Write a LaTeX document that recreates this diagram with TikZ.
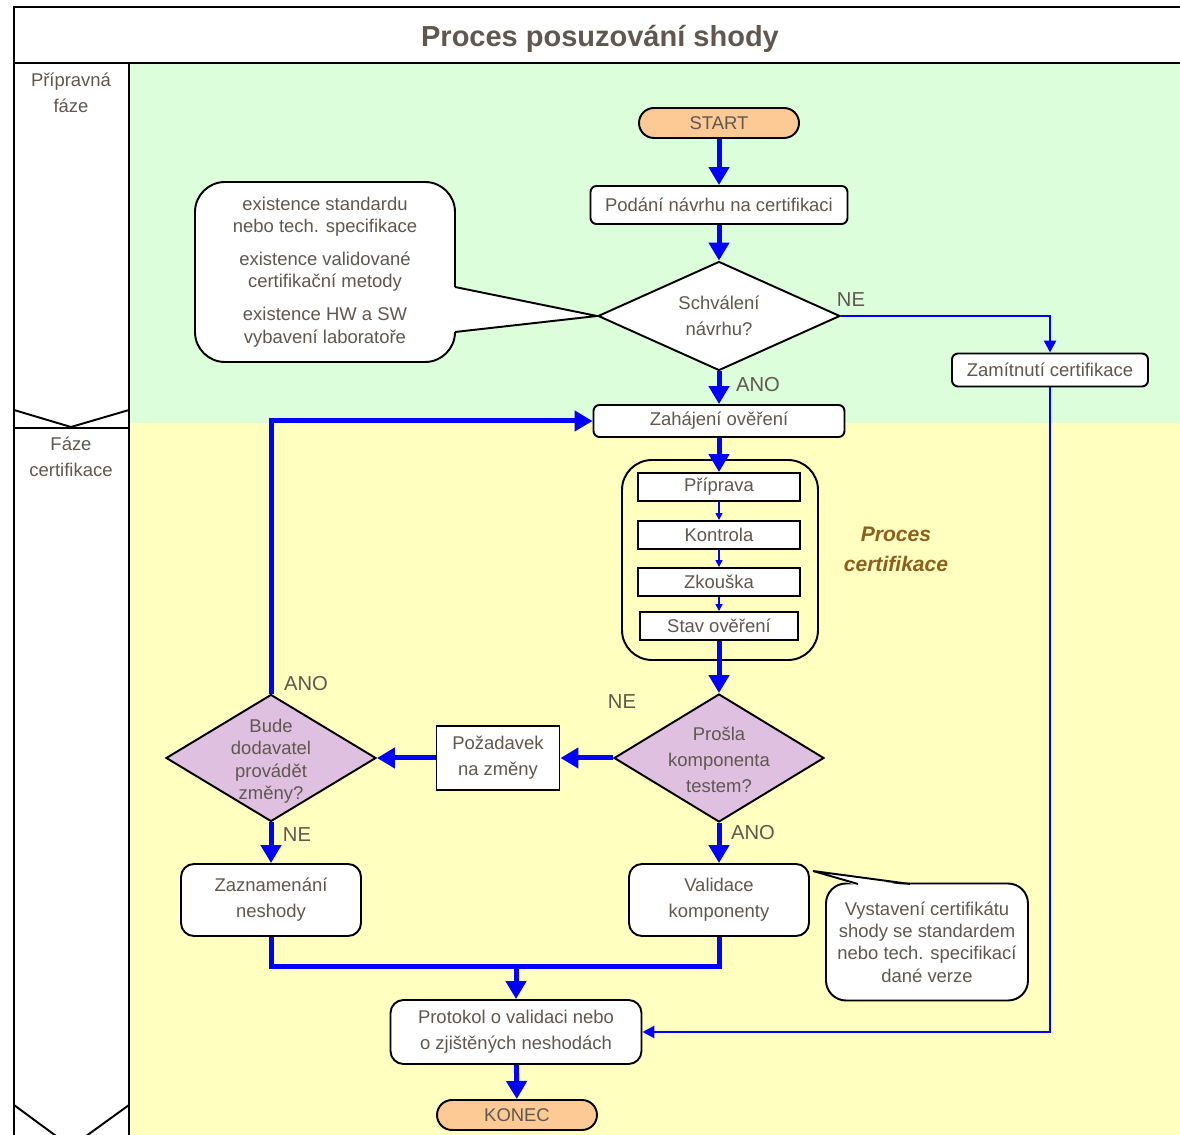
\documentclass[tikz,border=0pt]{standalone}
\usepackage{fontspec}
\setmainfont{Liberation Sans}
\usetikzlibrary{arrows.meta,shapes.geometric}
\definecolor{txtgray}{RGB}{95,87,80}
\definecolor{lanegreen}{RGB}{220,254,218}
\definecolor{laneyellow}{RGB}{255,255,192}
\definecolor{termpeach}{RGB}{253,202,150}
\definecolor{decililac}{RGB}{224,192,224}
\definecolor{procbrown}{RGB}{140,95,30}

\begin{document}
\begin{tikzpicture}[x=0.2mm,y=-0.2mm,
  txt/.style={text=txtgray,font=\fontsize{10.5}{14.7}\selectfont,align=center},
  frameline/.style={line width=1.1pt,draw=black},
  stepbox/.style={txt,draw,line width=1.1pt,fill=white,rounded corners=1.2mm,inner sep=0pt},
  sharpbox/.style={txt,draw,line width=1.1pt,fill=white,inner sep=0pt},
  term/.style={txt,draw,line width=1.1pt,fill=termpeach,rounded corners=3mm,
    minimum width=32mm,minimum height=6mm,inner sep=0pt,font=\fontsize{10.5}{12}\selectfont},
  decision/.style={diamond,draw,line width=1.1pt,inner sep=0pt},
  note/.style={txt,draw,line width=1.1pt,fill=white,inner sep=0pt,font=\fontsize{10.5}{12.7}\selectfont},
  flag/.style={text=txtgray,font=\fontsize{11.5}{14}\selectfont,inner sep=0pt},
  bigline/.style={draw=blue,line width=1mm},
  bigarrow/.style={bigline,-{Triangle[length=3.6mm,width=4mm]}},
  thinarrow/.style={draw=blue,line width=0.5mm,-{Triangle[length=2.4mm,width=2.4mm]}},
  smallarrow/.style={draw=blue,line width=0.3mm,-{Triangle[length=1.4mm,width=1.4mm]}}]
  \useasboundingbox (0,0) rectangle (1180,1135);
  % lanes and frame
  \fill[lanegreen] (129,63) rectangle (1180,423);
  \fill[laneyellow] (129,423) rectangle (1180,1135);
  \draw[frameline] (1180,7) -- (14,7) -- (14,1135);
  \draw[frameline] (14,63) -- (1180,63);
  \draw[frameline] (129,63) -- (129,1135);
  \draw[frameline] (14,410) -- (71,427) -- (129,410);
  \draw[frameline] (14,428) -- (129,428);
  \draw[frameline] (14,1105) -- (71,1147) -- (129,1105);
  \node[font=\fontsize{16.5}{20}\selectfont\bfseries,text=txtgray] (title) at (600,39) {Proces posuzování shody};
  \node[txt] (lanepriprava) at (71,93) {Přípravná\\fáze};
  \node[txt] (lanecert) at (71,457) {Fáze\\certifikace};
  % preparatory phase
  \node[term] (start) at (719,123) {START};
  \node[stepbox,minimum width=51.4mm,minimum height=7.6mm] (podani) at (719,205) {Podání návrhu na certifikaci};
  \node[decision,fill=white,minimum width=48.4mm,minimum height=21.8mm] (schval) at (719,316) {};
  \node[txt] (schvaltxt) at (719,316) {Schválení\\návrhu?};
  \node[stepbox,minimum width=39.2mm,minimum height=6.6mm] (zamitnuti) at (1050,370) {Zamítnutí certifikace};
  \node[note,minimum width=52mm,minimum height=36mm,rounded corners=6mm] (predpoklady) at (325,272)
    {existence standardu\\nebo tech. specifikace\\[6pt]existence validované\\certifikační metody\\[6pt]existence HW a SW\\vybavení laboratoře};
  \fill[white] (453,287) -- (schval.west) -- (453,332) -- cycle;
  \draw[frameline] (455,287) -- (schval.west) -- (455,332);
  % certification phase
  \node[stepbox,minimum width=50.2mm,minimum height=6.4mm] (zahajeni) at (719,421) {Zahájení ověření};
  \node[draw,line width=1.1pt,rounded corners=6mm,minimum width=39.2mm,minimum height=40mm] (proces) at (720,560) {};
  \node[sharpbox,minimum width=32.4mm,minimum height=5.6mm] (priprava) at (719,487) {Příprava};
  \node[sharpbox,minimum width=32.4mm,minimum height=5.6mm] (kontrola) at (719,535) {Kontrola};
  \node[sharpbox,minimum width=32.4mm,minimum height=5.6mm] (zkouska) at (719,582) {Zkouška};
  \node[sharpbox,minimum width=31.6mm,minimum height=5.6mm] (stav) at (719,626) {Stav ověření};
  \node[text=procbrown,font=\fontsize{12}{17}\selectfont\bfseries\itshape,align=center] (proccert) at (896,549) {Proces\\certifikace};
  \node[decision,fill=decililac,minimum width=42mm,minimum height=25.6mm] (prosla) at (719,758) {};
  \node[txt] (proslatxt) at (719,760) {Prošla\\komponenta\\testem?};
  \node[sharpbox,minimum width=24.6mm,minimum height=12.8mm] (pozadavek) at (498,758) {Požadavek\\na změny};
  \node[decision,fill=decililac,minimum width=42mm,minimum height=25.4mm] (bude) at (271,758) {};
  \node[txt,font=\fontsize{10.5}{12.8}\selectfont] (budetxt) at (271,761) {Bude\\dodavatel\\provádět\\změny?};
  \node[stepbox,rounded corners=2.6mm,minimum width=36mm,minimum height=14.4mm] (zaznam) at (271,900) {Zaznamenání\\neshody};
  \node[stepbox,rounded corners=2.6mm,minimum width=36mm,minimum height=14.4mm] (validace) at (719,900) {Validace\\komponenty};
  \node[note,minimum width=40.4mm,minimum height=23.4mm,rounded corners=4mm] (vystaveni) at (927,942)
    {Vystavení certifikátu\\shody se standardem\\nebo tech. specifikací\\dané verze};
  \coordinate (vtip) at (813,871);
  \fill[white] (858,886) -- (vtip) -- (910,886) -- cycle;
  \draw[frameline] (858,884) -- (vtip) -- (910,884);
  \node[stepbox,rounded corners=2.6mm,minimum width=50.2mm,minimum height=12.8mm] (protokol) at (516,1032) {Protokol o validaci nebo\\o zjištěných neshodách};
  \node[term] (konec) at (517,1115) {KONEC};
  % answers
  \node[flag] (neA) at (851,300) {NE};
  \node[flag] (anoA) at (758,385) {ANO};
  \node[flag] (neB) at (622,702) {NE};
  \node[flag] (anoB) at (306,684) {ANO};
  \node[flag] (neC) at (297,835) {NE};
  \node[flag] (anoC) at (753,833) {ANO};
  % connectors
  \draw[bigarrow] (start) -- (podani);
  \draw[bigarrow] (podani) -- (schval);
  \draw[bigarrow] (schval) -- (zahajeni);
  \draw[thinarrow] (schval.east) -| (zamitnuti.north);
  \draw[thinarrow] (zamitnuti.south) |- (protokol.east);
  \draw[bigarrow] (zahajeni) -- (priprava);
  \draw[smallarrow] (priprava) -- (kontrola);
  \draw[smallarrow] (kontrola) -- (zkouska);
  \draw[smallarrow] (zkouska) -- (stav);
  \draw[bigarrow] (stav) -- (prosla);
  \draw[bigarrow] (prosla) -- (pozadavek);
  \draw[bigarrow] (pozadavek) -- (bude);
  \draw[bigarrow] (bude.north) |- (zahajeni.west);
  \draw[bigarrow] (bude) -- (zaznam);
  \draw[bigarrow] (prosla) -- (validace);
  \coordinate (soutok) at (516,967);
  \draw[bigline] (zaznam.south) |- (soutok) -| (validace.south);
  \draw[bigarrow] (soutok) -- (protokol);
  \draw[bigarrow] (protokol) -- (konec);
\end{tikzpicture}
\end{document}
